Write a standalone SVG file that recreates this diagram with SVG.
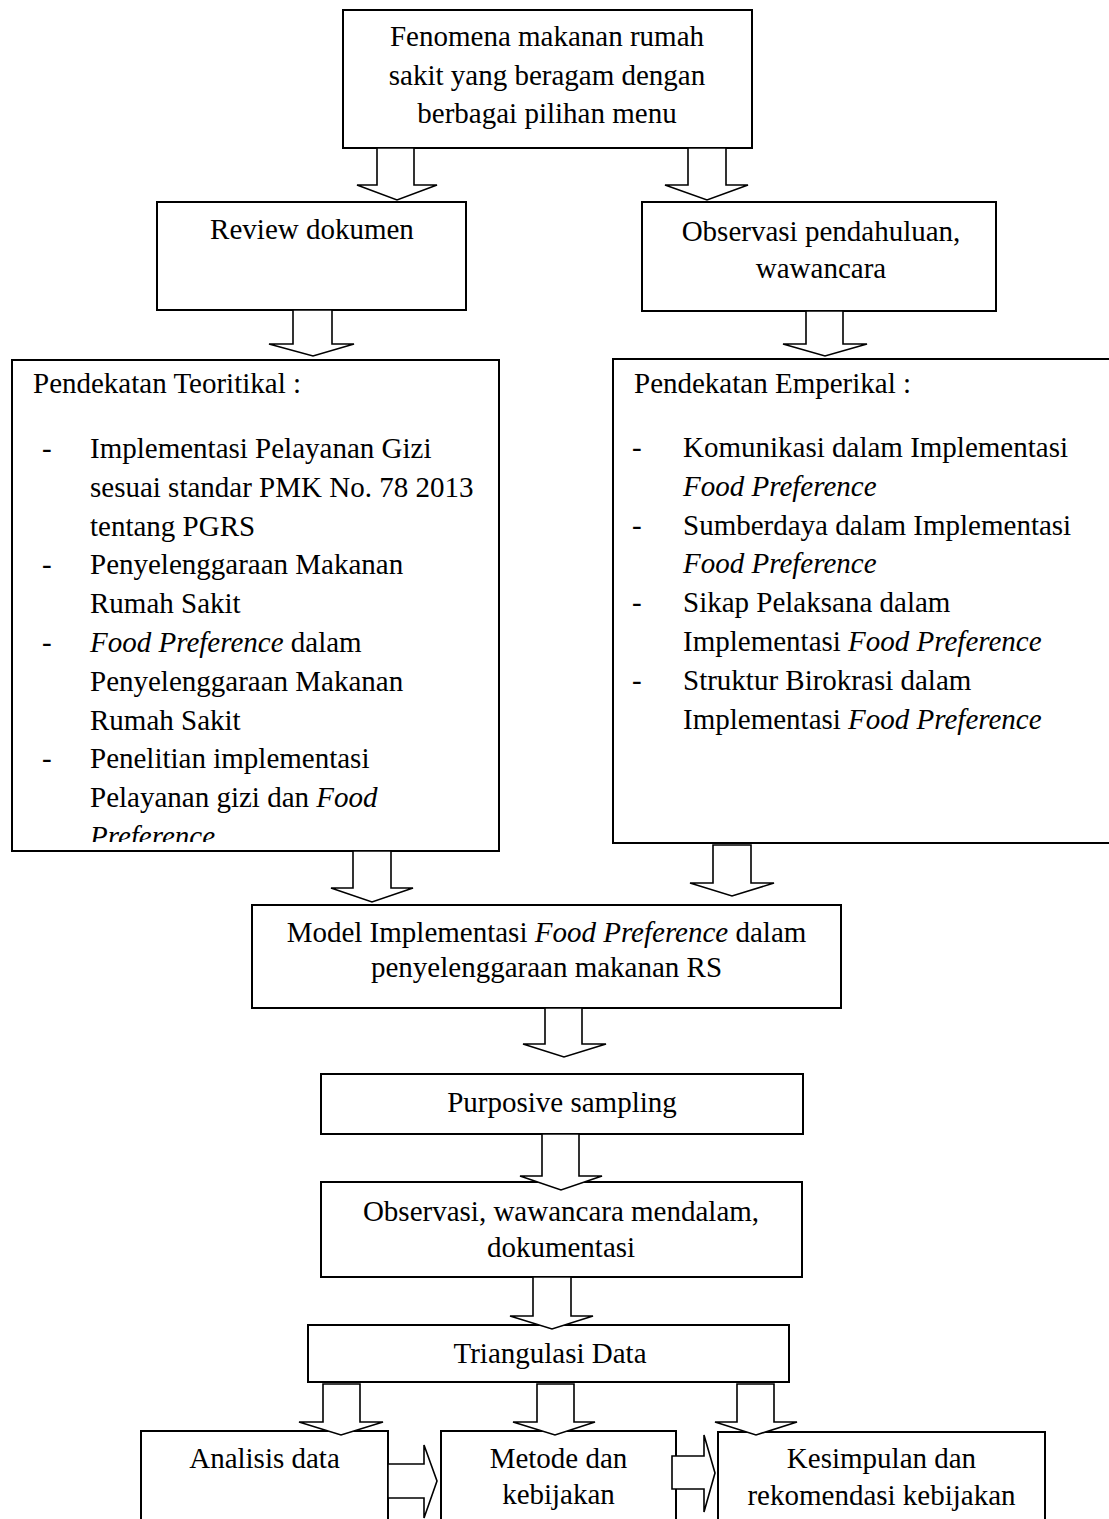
<svg xmlns="http://www.w3.org/2000/svg" width="1109" height="1519" viewBox="0 0 1109 1519">
<style>
.box{fill:#fff;stroke:#000;stroke-width:2}
.arr{fill:#fff;stroke:#000;stroke-width:1.6;stroke-linejoin:miter}
text{font-family:"Liberation Serif","Times New Roman",serif;font-size:29px;fill:#000}
.c{text-anchor:middle}
.i{font-style:italic}
</style>
<defs>
<clipPath id="clipL"><rect x="12" y="360" width="487" height="482"/></clipPath>
</defs>
<rect x="0" y="0" width="1109" height="1519" fill="#fff"/>

<g id="n-fenomena">
<rect class="box" x="343" y="10" width="409" height="138"/>
<text class="c" x="547" y="46">Fenomena makanan rumah</text>
<text class="c" x="547" y="85">sakit yang beragam dengan</text>
<text class="c" x="547" y="123">berbagai pilihan menu</text>
</g>

<g id="n-review">
<rect class="box" x="157" y="202" width="309" height="108"/>
<text class="c" x="312" y="239">Review dokumen</text>
</g>

<g id="n-observasi-pendahuluan">
<rect class="box" x="642" y="202" width="354" height="109"/>
<text class="c" x="821" y="241">Observasi pendahuluan,</text>
<text class="c" x="821" y="278">wawancara</text>
</g>

<g id="n-teoritikal">
<rect class="box" x="12" y="360" width="487" height="491"/>
<g clip-path="url(#clipL)">
<text x="33" y="393">Pendekatan Teoritikal :</text>
<text x="42" y="458">-</text>
<text x="90" y="458">Implementasi Pelayanan Gizi</text>
<text x="90" y="497">sesuai standar PMK No. 78 2013</text>
<text x="90" y="535.5">tentang PGRS</text>
<text x="42" y="574">-</text>
<text x="90" y="574">Penyelenggaraan Makanan</text>
<text x="90" y="613">Rumah Sakit</text>
<text x="42" y="652">-</text>
<text x="90" y="652"><tspan class="i">Food Preference</tspan> dalam</text>
<text x="90" y="691">Penyelenggaraan Makanan</text>
<text x="90" y="729.5">Rumah Sakit</text>
<text x="42" y="768">-</text>
<text x="90" y="768">Penelitian implementasi</text>
<text x="90" y="807">Pelayanan gizi dan <tspan class="i">Food</tspan></text>
<text x="90" y="846" class="i">Preference</text>
</g>
</g>

<g id="n-emperikal">
<rect class="box" x="613" y="359" width="510" height="484"/>
<text x="634" y="393">Pendekatan Emperikal :</text>
<text x="632" y="457">-</text>
<text x="683" y="457">Komunikasi dalam Implementasi</text>
<text x="683" y="496" class="i">Food Preference</text>
<text x="632" y="534.5">-</text>
<text x="683" y="534.5">Sumberdaya dalam Implementasi</text>
<text x="683" y="573" class="i">Food Preference</text>
<text x="632" y="612">-</text>
<text x="683" y="612">Sikap Pelaksana dalam</text>
<text x="683" y="651">Implementasi <tspan class="i">Food Preference</tspan></text>
<text x="632" y="690">-</text>
<text x="683" y="690">Struktur Birokrasi dalam</text>
<text x="683" y="729">Implementasi <tspan class="i">Food Preference</tspan></text>
</g>

<g id="n-model">
<rect class="box" x="252" y="905" width="589" height="103"/>
<text class="c" x="546.5" y="942">Model Implementasi <tspan class="i">Food Preference</tspan> dalam</text>
<text class="c" x="546.5" y="977">penyelenggaraan makanan RS</text>
</g>

<g id="n-purposive">
<rect class="box" x="321" y="1074" width="482" height="60"/>
<text class="c" x="562" y="1112">Purposive sampling</text>
</g>

<g id="n-observasi-mendalam">
<rect class="box" x="321" y="1182" width="481" height="95"/>
<text class="c" x="561" y="1221">Observasi, wawancara mendalam,</text>
<text class="c" x="561" y="1257">dokumentasi</text>
</g>

<g id="n-triangulasi">
<rect class="box" x="308" y="1325" width="481" height="57"/>
<text class="c" x="550" y="1363">Triangulasi Data</text>
</g>

<g id="n-analisis">
<rect class="box" x="141" y="1431" width="247" height="100"/>
<text class="c" x="264.5" y="1468">Analisis data</text>
</g>

<g id="n-metode">
<rect class="box" x="441" y="1431" width="235" height="100"/>
<text class="c" x="558.5" y="1468">Metode dan</text>
<text class="c" x="558.5" y="1504">kebijakan</text>
</g>

<g id="n-kesimpulan">
<rect class="box" x="718" y="1432" width="327" height="100"/>
<text class="c" x="881.5" y="1468">Kesimpulan dan</text>
<text class="c" x="881.5" y="1505">rekomendasi kebijakan</text>
</g>

<g id="connectors">
<polygon class="arr" points="377,148 377,185 357,185 397,200 437,185 414,185 414,148"/>
<polygon class="arr" points="688,148 688,185 665,185 707,200 748,185 726,185 726,148"/>
<polygon class="arr" points="293,310 293,344 269,344 313,356 354,344 332,344 332,310"/>
<polygon class="arr" points="806,311 806,344 783,344 825,356 867,344 843,344 843,311"/>
<polygon class="arr" points="353,851 353,888 331,888 372,902 413,888 391,888 391,851"/>
<polygon class="arr" points="713,845 713,883 690,883 732,896 774,883 751,883 751,845"/>
<polygon class="arr" points="545,1008 545,1044 523,1044 564,1057 606,1044 582,1044 582,1008"/>
<polygon class="arr" points="542,1134 542,1176 520,1176 561,1190 602,1176 579,1176 579,1134"/>
<polygon class="arr" points="533,1277 533,1316 510,1316 552,1329 593,1316 571,1316 571,1277"/>
<polygon class="arr" points="323,1384 323,1422 299,1422 341,1435 383,1422 360,1422 360,1384"/>
<polygon class="arr" points="537,1384 537,1422 513,1422 555,1435 595,1422 574,1422 574,1384"/>
<polygon class="arr" points="737,1384 737,1422 715,1422 756,1435 797,1422 774,1422 774,1384"/>
<polygon class="arr" points="388,1464 424,1464 424,1445 437,1481 424,1518 424,1498 388,1498"/>
<polygon class="arr" points="672,1456 704,1456 704,1435 715,1473 704,1512 704,1489 672,1489"/>
</g>
</svg>
